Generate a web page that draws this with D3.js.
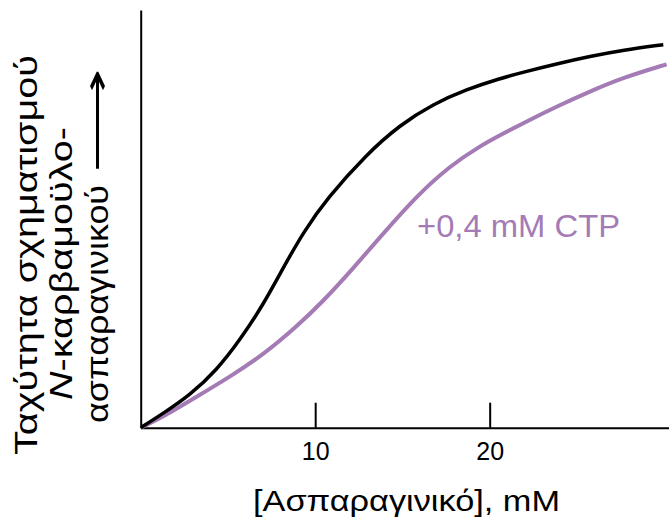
<!DOCTYPE html>
<html>
<head>
<meta charset="utf-8">
<script src="https://cdn.jsdelivr.net/npm/d3@7"></script>
<style>
  body { margin: 0; background: #fff; }
  text { font-family: "Liberation Sans", Arial, sans-serif; }
</style>
</head>
<body>
<div id="chart"></div>
<script>
// Rate of N-carbamoyl-aspartate formation vs [aspartate]

// asparagine concentration (mM) and relative rate, no CTP
const controlX = [0, 1.3, 2.83, 4.36, 5.69, 7.03, 8.17, 9.32, 10.66, 12.95, 14.86, 16.77, 18.68, 20.59, 21.91, 23.84, 25.75, 27.64, 29.95];
const controlY = [0, 3.45, 7.83, 13.8, 21.0, 29.5, 38.3, 46.8, 54.8, 65.5, 72.5, 77.5, 81.0, 83.6, 85.1, 87.1, 88.9, 90.4, 91.7];

// with +0.4 mM CTP
const ctpX = [0, 1.3, 3.21, 5.12, 7.03, 8.94, 10.46, 12.0, 13.9, 15.82, 17.73, 19.44, 20.59, 21.91, 23.84, 25.75, 27.64, 30.14];
const ctpY = [0, 2.63, 7.42, 12.2, 17.5, 24.2, 30.3, 37.3, 46.5, 55.5, 62.7, 67.4, 70.0, 72.9, 76.9, 80.5, 83.8, 87.0];

const xTicks = [10, 20];
const X_LABEL = "[Ασπαραγινικό], mM";
const Y_LABEL_1 = "Ταχύτητα σχηματισμού";
const Y_LABEL_2 = "-καρβαμοϋλο-"; // after the italic N
const Y_LABEL_3 = "ασπαραγινικού";
const CTP_LABEL = "+0,4 mM CTP";

const width = 669, height = 519;
const purple = "#a47bb4";

const svg = d3.select("#chart").append("svg")
    .attr("width", width)
    .attr("height", height);

// scales
const x = d3.scaleLinear().domain([0, 30.3]).range([140.7, 669.4]);
const y = d3.scaleLinear().domain([0, 100]).range([427.7, 10]);

// axes
svg.append("g")
    .attr("transform", `translate(0,${y(0)})`)
    .call(d3.axisBottom(x).tickValues(xTicks).tickSizeInner(-25).tickSizeOuter(0).tickPadding(15))
    .call(g => g.select(".domain").attr("stroke-width", 2))
    .call(g => g.selectAll(".tick line").attr("stroke-width", 2))
    .call(g => g.selectAll(".tick text")
        .attr("font-size", 25)
        .attr("font-family", "Liberation Sans, Arial, sans-serif")
        .attr("fill", "#000"));

svg.append("g")
    .attr("transform", `translate(${x(0)},0)`)
    .call(d3.axisLeft(y).tickValues([]).tickSizeOuter(0))
    .call(g => g.select(".domain").attr("stroke-width", 2));

// curves
const line = d3.line()
    .x(d => x(d[0]))
    .y(d => y(d[1]))
    .curve(d3.curveBasis);

svg.append("path")
    .datum(ctpX.map((v, i) => [v, ctpY[i]]))
    .attr("d", line)
    .attr("fill", "none")
    .attr("stroke", purple)
    .attr("stroke-width", 4);

svg.append("path")
    .datum(controlX.map((v, i) => [v, controlY[i]]))
    .attr("d", line)
    .attr("fill", "none")
    .attr("stroke", "#000")
    .attr("stroke-width", 3.5);

// CTP label
svg.append("text")
    .attr("x", 417)
    .attr("y", 237)
    .attr("font-size", 32)
    .attr("textLength", 203)
    .attr("lengthAdjust", "spacingAndGlyphs")
    .attr("fill", purple)
    .text(CTP_LABEL);

// x axis title
svg.append("text")
    .attr("x", 253)
    .attr("y", 511)
    .attr("font-size", 30)
    .attr("textLength", 307)
    .attr("lengthAdjust", "spacingAndGlyphs")
    .text(X_LABEL);

// y axis title, rotated; the greek glyphs in the original are wider
function yText(baseX, startY, len) {
    return svg.append("text")
        .attr("transform", `translate(${baseX},${startY}) rotate(-90)`)
        .attr("font-size", 32)
        .attr("textLength", len)
        .attr("lengthAdjust", "spacingAndGlyphs");
}

yText(37, 455, 400).text(Y_LABEL_1);

const l2 = yText(72, 400, 273);
l2.append("tspan").attr("font-style", "italic").text("N");
l2.append("tspan").text(Y_LABEL_2);

yText(108, 423, 238).text(Y_LABEL_3);
yText(108, 173, 105).text("⟶");
</script>
</body>
</html>
